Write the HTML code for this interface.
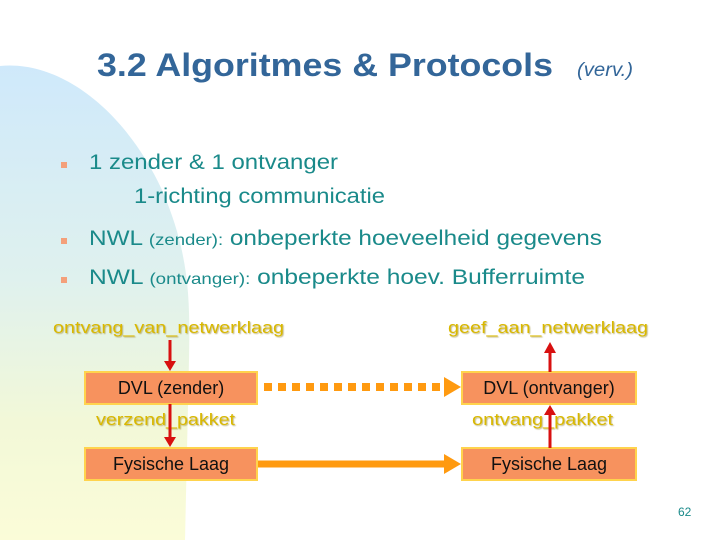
<!DOCTYPE html>
<html><head><meta charset="utf-8"><style>
html,body{margin:0;padding:0;background:#fff}
svg{display:block}
text{font-family:"Liberation Sans",sans-serif}
</style></head><body>
<svg width="720" height="540" viewBox="0 0 720 540">
<defs>
<linearGradient id="bg" x1="0" y1="0" x2="0" y2="1">
<stop offset="0" stop-color="#cfe9fb"/>
<stop offset="0.45" stop-color="#dff1ee"/>
<stop offset="0.75" stop-color="#f2f8d8"/>
<stop offset="1" stop-color="#fbfcd8"/>
</linearGradient>
<filter id="sh"><feDropShadow dx="1" dy="1" stdDeviation="0.4" flood-color="#9a8a30" flood-opacity="0.6"/></filter>
</defs>
<rect width="720" height="540" fill="#fff"/>
<path d="M0,66 C60,60 125,110 162,190 C190,255 190,300 189,360 L185,540 L0,540 Z" fill="url(#bg)"/>
<text x="97" y="76" font-size="32" font-weight="bold" fill="#336699" textLength="456" lengthAdjust="spacingAndGlyphs">3.2 Algoritmes &amp; Protocols</text>
<text x="577" y="76" font-size="19" font-style="italic" fill="#336699" textLength="56" lengthAdjust="spacingAndGlyphs">(verv.)</text>
<g fill="#f4a07a">
<rect x="61" y="162" width="6" height="6"/>
<rect x="61" y="238" width="6" height="6"/>
<rect x="61" y="277" width="6" height="6"/>
</g>
<g fill="#1a8a8a" font-size="21">
<text x="89" y="169" textLength="249" lengthAdjust="spacingAndGlyphs">1 zender &amp; 1 ontvanger</text>
<text x="134" y="203" textLength="251" lengthAdjust="spacingAndGlyphs">1-richting communicatie</text>
<text x="89" y="245" textLength="513" lengthAdjust="spacingAndGlyphs">NWL <tspan font-size="16">(zender):</tspan> onbeperkte hoeveelheid gegevens</text>
<text x="89" y="284" textLength="496" lengthAdjust="spacingAndGlyphs">NWL <tspan font-size="16">(ontvanger):</tspan> onbeperkte hoev. Bufferruimte</text>
</g>
<g fill="#d9b800" font-size="17" filter="url(#sh)">
<text x="53" y="333" textLength="231" lengthAdjust="spacingAndGlyphs">ontvang_van_netwerklaag</text>
<text x="448" y="333" textLength="200" lengthAdjust="spacingAndGlyphs">geef_aan_netwerklaag</text>
<text x="96" y="425" textLength="139" lengthAdjust="spacingAndGlyphs">verzend_pakket</text>
<text x="472" y="425" textLength="141" lengthAdjust="spacingAndGlyphs">ontvang_pakket</text>
</g>
<g fill="#f7925e" stroke="#ffd34d" stroke-width="2">
<rect x="85" y="372" width="172" height="32"/>
<rect x="85" y="448" width="172" height="32"/>
<rect x="462" y="372" width="174" height="32"/>
<rect x="462" y="448" width="174" height="32"/>
</g>
<g fill="#111" font-size="18" text-anchor="middle">
<text x="171" y="394">DVL (zender)</text>
<text x="171" y="470">Fysische Laag</text>
<text x="549" y="394">DVL (ontvanger)</text>
<text x="549" y="470">Fysische Laag</text>
</g>
<g stroke="#d81010" stroke-width="3">
<line x1="170" y1="340" x2="170" y2="362"/>
<line x1="170" y1="404" x2="170" y2="438"/>
<line x1="550" y1="372" x2="550" y2="352"/>
<line x1="550" y1="448" x2="550" y2="414"/>
</g>
<g fill="#d81010">
<polygon points="164,361 176,361 170,371"/>
<polygon points="164,437 176,437 170,447"/>
<polygon points="544,353 556,353 550,342"/>
<polygon points="544,415 556,415 550,405"/>
</g>
<line x1="264" y1="387" x2="446" y2="387" stroke="#ff9a10" stroke-width="8" stroke-dasharray="8,6"/>
<polygon points="444,377 461,387 444,397" fill="#ff9a10"/>
<line x1="258" y1="464" x2="446" y2="464" stroke="#ff9a10" stroke-width="7"/>
<polygon points="444,454 461,464 444,474" fill="#ff9a10"/>
<text x="678" y="516" font-size="12" fill="#1a8a8a">62</text>
</svg>
</body></html>
